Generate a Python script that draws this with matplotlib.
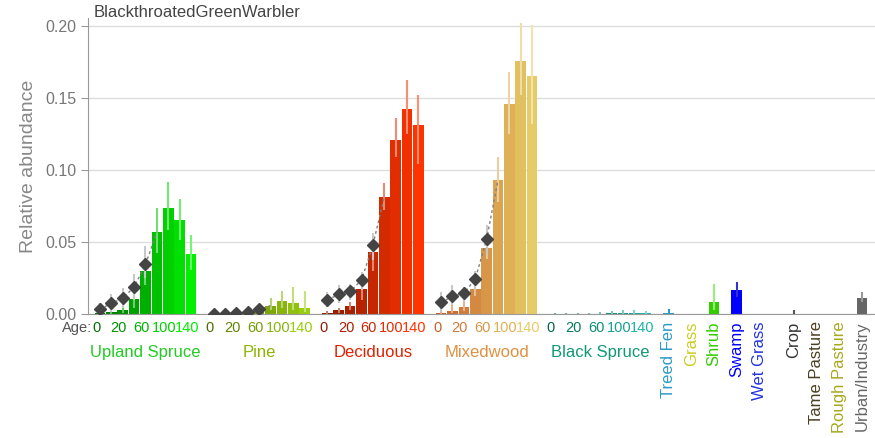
import matplotlib
matplotlib.use("Agg")
import matplotlib.pyplot as plt
from matplotlib.colors import to_rgb

plt.rcParams['font.family'] = ['Liberation Sans', 'DejaVu Sans']

species = "BlackthroatedGreenWarbler"
age_labels = ["0", "20", "60", "100", "140"]

# forest types: mean abundance per age class with confidence limits
forest_names = ["Upland Spruce", "Pine", "Deciduous", "Mixedwood", "Black Spruce"]

upland_mean = [0.0005, 0.0014, 0.0026, 0.0105, 0.0295, 0.0567, 0.0736, 0.0652, 0.0414]
upland_lo = [0.0, 0.0, 0.0005, 0.004, 0.020, 0.042, 0.058, 0.051, 0.0305]
upland_hi = [0.0015, 0.004, 0.008, 0.019, 0.040, 0.0736, 0.0916, 0.0796, 0.0545]

pine_mean = [0.0002, 0.0002, 0.0003, 0.0005, 0.002, 0.0058, 0.0092, 0.0077, 0.0040]
pine_lo = [0.0, 0.0, 0.0, 0.0, 0.0008, 0.0025, 0.004, 0.003, 0.0015]
pine_hi = [0.0006, 0.0006, 0.0008, 0.0015, 0.004, 0.011, 0.016, 0.0185, 0.016]

decid_mean = [0.001, 0.0027, 0.0055, 0.0173, 0.0427, 0.081, 0.121, 0.142, 0.131]
decid_lo = [0.0002, 0.001, 0.0025, 0.0097, 0.030, 0.072, 0.109, 0.125, 0.104]
decid_hi = [0.002, 0.004, 0.0085, 0.028, 0.051, 0.091, 0.136, 0.162, 0.152]

mixed_mean = [0.001, 0.0023, 0.005, 0.0173, 0.0455, 0.0927, 0.1453, 0.1755, 0.165]
mixed_lo = [0.0002, 0.0008, 0.002, 0.0125, 0.038, 0.0777, 0.125, 0.152, 0.132]
mixed_hi = [0.002, 0.006, 0.012, 0.0235, 0.056, 0.1089, 0.168, 0.202, 0.2005]

bspruce_mean = [0.0001, 0.0001, 0.0001, 0.0002, 0.0003, 0.0006, 0.0009, 0.0008, 0.0004]
bspruce_lo = [0.0, 0.0, 0.0, 0.0, 0.0, 0.0, 0.0, 0.0, 0.0]
bspruce_hi = [0.0005, 0.0005, 0.0006, 0.0008, 0.0012, 0.002, 0.003, 0.0025, 0.002]

# cutblock (harvest) abundance for the youngest age classes
upland_cut = [0.0033, 0.0074, 0.0109, 0.0187, 0.0344]
upland_cut_lo = [0.0007, 0.0016, 0.004, 0.0097, 0.025]
upland_cut_hi = [0.0076, 0.014, 0.018, 0.028, 0.047]

pine_cut = [0.0002, 0.0003, 0.0005, 0.0012, 0.0032]
pine_cut_lo = [0.0, 0.0, 0.0, 0.0002, 0.001]
pine_cut_hi = [0.0008, 0.001, 0.0015, 0.0025, 0.005]

decid_cut = [0.0097, 0.0136, 0.0157, 0.0235, 0.0478]
decid_cut_lo = [0.005, 0.0074, 0.0097, 0.0166, 0.0374]
decid_cut_hi = [0.0154, 0.020, 0.021, 0.029, 0.056]

mixed_cut = [0.0081, 0.0122, 0.0143, 0.0242, 0.0517]
mixed_cut_lo = [0.0016, 0.0062, 0.0085, 0.0166, 0.041]
mixed_cut_hi = [0.0154, 0.020, 0.019, 0.030, 0.0616]

# open / wetland / human footprint types
other_names = ["Treed Fen", "Grass", "Shrub", "Swamp", "Wet Grass", "Crop",
               "Tame Pasture", "Rough Pasture", "Urban/Industry"]
other_mean = [0.0004, 0.0, 0.0081, 0.0164, 0.0, 0.0002, 0.0, 0.0, 0.0108]
other_lo = [0.0, 0.0, 0.003, 0.012, 0.0, 0.0, 0.0, 0.0, 0.008]
other_hi = [0.0035, 0.0, 0.0208, 0.0224, 0.0, 0.0025, 0.0, 0.0, 0.015]

# styling
forest_cols = [("#007000", "#00F000"), ("#4F6B00", "#9ACD10"), ("#8B1A00", "#FF3300"),
               ("#C8602A", "#E6CC66"), ("#006644", "#20B2AA")]
forest_label_cols = ["#22CC22", "#8DB600", "#DD2200", "#E09040", "#119977"]
other_cols = ["#2E9AC8", "#CCCC22", "#33CC00", "#0000FF", "#2233DD", "#333333",
              "#4A4020", "#A8A820", "#666666"]
other_err_cols = ["#2E9AC8", "#E0E080", "#99EE77", "#3333CC", "#6677EE", "#555555",
                  "#888860", "#CCCC70", "#999999"]
other_x = [50, 52, 54, 56, 58, 61, 63, 65, 67]


def blend(c1, c2, t):
    a, b = to_rgb(c1), to_rgb(c2)
    return tuple(a[i] + (b[i] - a[i]) * t for i in range(3))


def lighten(c, t=0.5):
    return blend(c, "#FFFFFF", t)


fig = plt.figure(figsize=(8.75, 4.38), dpi=100)
ax = fig.add_axes([88 / 875, 1 - 314 / 438, 787 / 875, 295.6 / 438])

forests = [
    (upland_mean, upland_lo, upland_hi, upland_cut, upland_cut_lo, upland_cut_hi),
    (pine_mean, pine_lo, pine_hi, pine_cut, pine_cut_lo, pine_cut_hi),
    (decid_mean, decid_lo, decid_hi, decid_cut, decid_cut_lo, decid_cut_hi),
    (mixed_mean, mixed_lo, mixed_hi, mixed_cut, mixed_cut_lo, mixed_cut_hi),
    (bspruce_mean, bspruce_lo, bspruce_hi, None, None, None),
]

xt = ax.get_xaxis_transform()
for g, (mean, lo, hi, cut, cut_lo, cut_hi) in enumerate(forests):
    x0 = g * 10
    xs = [x0 + i for i in range(len(mean))]
    cols = [blend(*forest_cols[g], i / 8) for i in range(len(mean))]
    ax.bar(xs, mean, width=0.93, color=cols, zorder=2)
    ax.vlines(xs, lo, hi, colors=[lighten(c, 0.45) for c in cols], lw=1.5, zorder=3)
    if cut is not None:
        cx = xs[:len(cut)]
        ax.vlines(cx, cut_lo, cut_hi, colors="#C8C8C8", lw=1.5, zorder=4)
        ax.plot(cx + [xs[len(cut)]], cut + [mean[len(cut)]], ls=(0, (2, 2)),
                color="#808080", lw=1, zorder=5)
        ax.plot(cx, cut, ls="none", marker="D", ms=6, color="#444444", zorder=6)
    # age tick labels under bars 0, 2, 4, 6, 8
    for k, lab in enumerate(age_labels):
        ax.text(xs[2 * k] - 0.35, -0.047, lab, transform=xt, ha="center", va="center",
                fontsize=10.5, color=cols[2 * k])
    ax.text(x0 + 4, -0.129, forest_names[g], transform=xt, ha="center", va="center",
            fontsize=12, color=forest_label_cols[g])

ax.bar(other_x, other_mean, width=0.93, color=other_cols, zorder=2)
ax.vlines(other_x, other_lo, other_hi, colors=other_err_cols, lw=1.5, zorder=3)
for x, name, c in zip(other_x, other_names, other_cols):
    ax.text(x, -0.025, name, transform=xt, rotation=90, ha="center", va="top",
            fontsize=12, color=c)

ax.text(-0.7, -0.047, "Age:", transform=xt, ha="right", va="center", fontsize=10.5,
        color="#555555")

ax.set_xlim(-1.055, 68.16)
ax.set_ylim(0, 0.205)
ax.set_yticks([0, 0.05, 0.10, 0.15, 0.20])
ax.set_yticklabels(["0.00", "0.05", "0.10", "0.15", "0.20"])
ax.set_xticks([])
ax.tick_params(axis="y", colors="#999999", labelcolor="#777777", labelsize=11.5, length=5)
ax.yaxis.grid(True, color="#DDDDDD", lw=1)
ax.set_axisbelow(True)
for s in ["top", "right"]:
    ax.spines[s].set_visible(False)
for s in ["left", "bottom"]:
    ax.spines[s].set_color("#999999")
ax.set_ylabel("Relative abundance", fontsize=14, color="#888888", labelpad=6)
ax.text(0.007, 1.02, species, transform=ax.transAxes, ha="left", va="center",
        fontsize=12, color="#444444")

fig.savefig("out.png", dpi=100)
